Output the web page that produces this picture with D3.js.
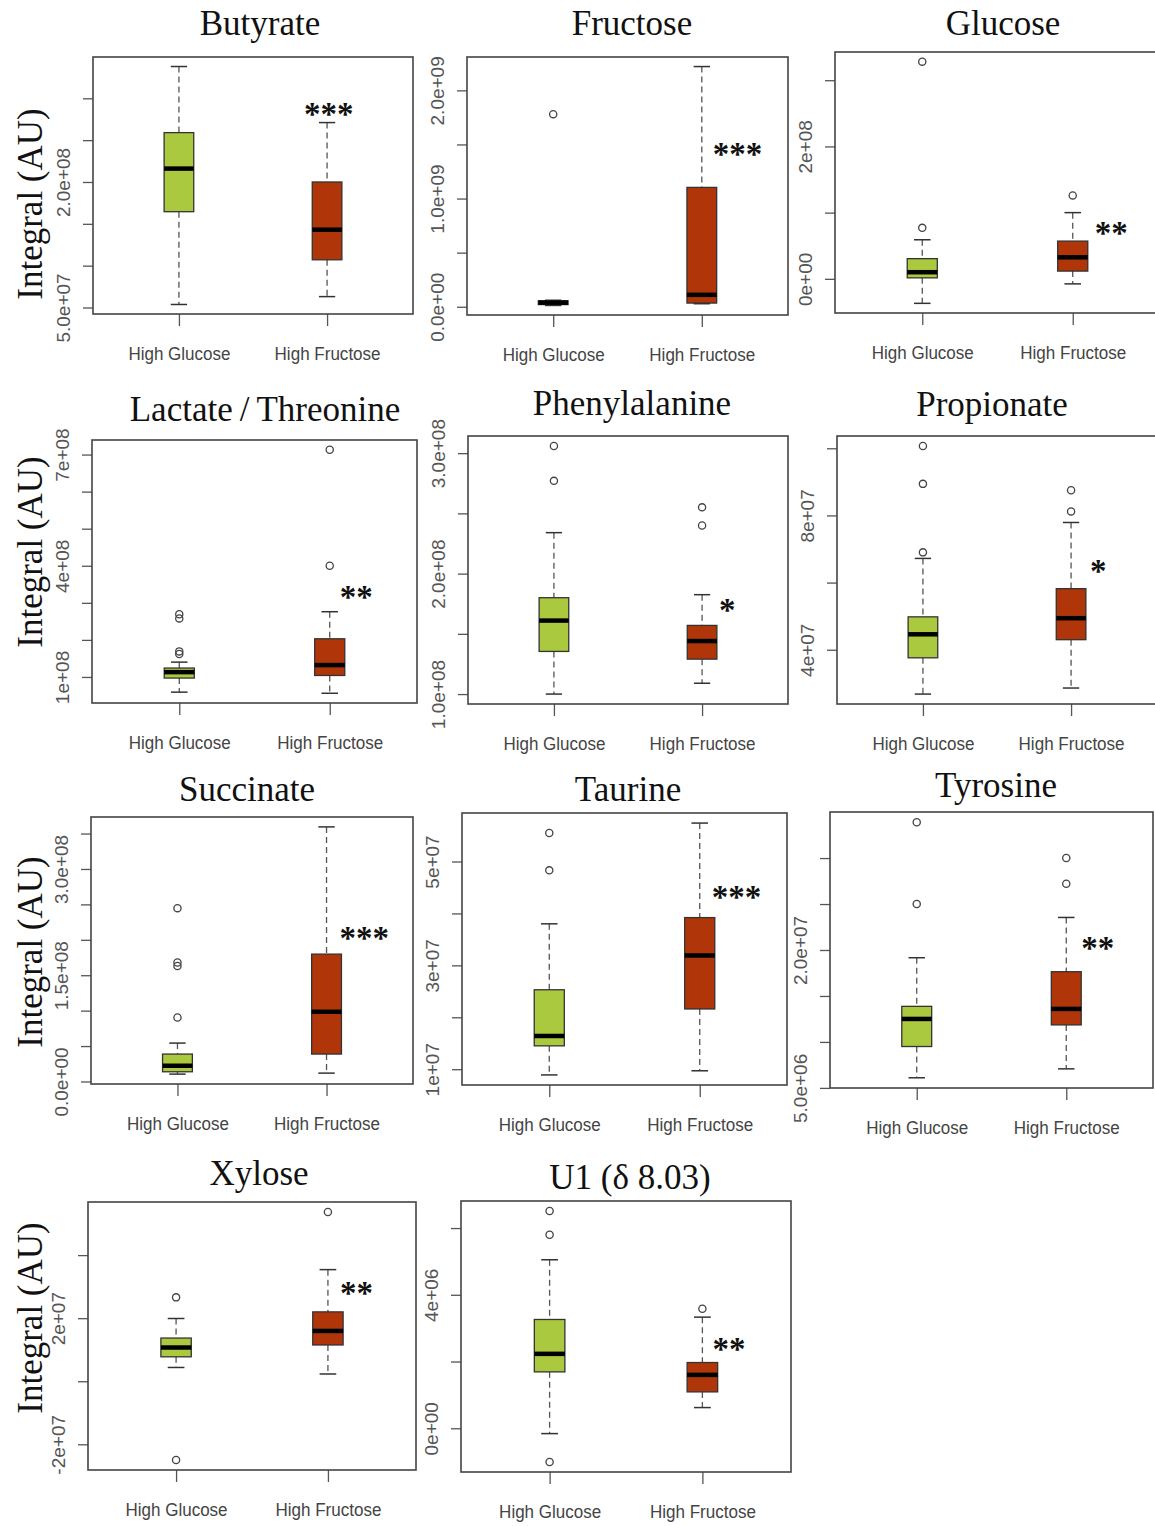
<!DOCTYPE html>
<html lang="en">
<head>
<meta charset="utf-8">
<script src="https://d3js.org/d3.v7.min.js"></script>
<style>
  body { margin: 0; background: #fff; }
  svg { display: block; background: #fff; }
  .title { font-family: "Liberation Serif", "Times New Roman", serif; font-size: 35px; fill: #111; text-anchor: middle; }
  .ylab { font-family: "Liberation Serif", "Times New Roman", serif; font-size: 35px; fill: #111; text-anchor: middle; }
  .tick line { stroke: #555; stroke-width: 1.3px; }
  .yaxis text { font-family: "Liberation Sans", Arial, sans-serif; font-size: 19px; fill: #555; }
  .xaxis text { font-family: "Liberation Sans", Arial, sans-serif; font-size: 18px; fill: #444; }
  .frame { fill: none; stroke: #444; stroke-width: 1.6px; }
  .whisker { stroke: #555; stroke-width: 1.3px; stroke-dasharray: 6,4; }
  .cap { stroke: #333; stroke-width: 1.5px; }
  .box { stroke: #333; stroke-width: 1.3px; }
  .median { stroke: #000; stroke-width: 4.5px; }
  .outlier { fill: none; stroke: #444; stroke-width: 1.3px; }
  .stars { font-family: "Liberation Serif", "Times New Roman", serif; font-weight: bold; font-size: 33px; fill: #111; }
</style>
</head>
<body>
<svg width="1155" height="1526"></svg>
<script>

var groups = ["High Glucose", "High Fructose"];
var colors = ["#aac93f", "#b0360a"];

var metabolites = ["Butyrate", "Fructose", "Glucose", "Lactate\u2009/\u2009Threonine", "Phenylalanine",
    "Propionate", "Succinate", "Taurine", "Tyrosine", "Xylose", "U1 (\u03b4 8.03)"];

// [lower whisker, Q1, median, Q3, upper whisker]
var glucoseStats = [
    [5.36e7, 1.645e8, 2.16e8, 2.59e8, 3.38e8],
    [1.2e7, 2.0e7, 3.8e7, 5.5e7, 6.0e7],
    [-3.7e7, 1.5e6, 1.0e7, 3.05e7, 5.9e7],
    [5.9e7, 9.7e7, 1.13e8, 1.24e8, 1.4e8],
    [1.0e8, 1.354e8, 1.61e8, 1.80e8, 2.34e8],
    [2.68e7, 3.76e7, 4.46e7, 4.98e7, 6.72e7],
    [1.04e7, 1.37e7, 2.22e7, 3.87e7, 5.42e7],
    [8.9e6, 1.45e7, 1.64e7, 2.53e7, 3.8e7],
    [6.1e6, 9.5e6, 1.25e7, 1.387e7, 1.916e7],
    [4.37e6, 7.75e6, 1.07e7, 1.37e7, 1.99e7],
    [-1.6e5, 1.69e6, 2.23e6, 3.26e6, 5.05e6]
];
var fructoseStats = [
    [6.3e7, 1.07e8, 1.43e8, 2.0e8, 2.71e8],
    [2.8e7, 3.4e7, 1.1e8, 1.103e9, 2.22e9],
    [-7.6e6, 1.17e7, 3.25e7, 5.7e7, 1.0e8],
    [5.6e7, 1.04e8, 1.32e8, 2.03e8, 2.76e8],
    [1.09e8, 1.29e8, 1.44e8, 1.57e8, 1.825e8],
    [2.86e7, 4.3e7, 4.94e7, 5.82e7, 7.79e7],
    [1.18e7, 3.87e7, 9.84e7, 1.798e8, 3.594e8],
    [9.7e6, 2.16e7, 3.19e7, 3.92e7, 5.74e7],
    [7.07e6, 1.185e7, 1.359e7, 1.764e7, 2.354e7],
    [2.3e6, 1.15e7, 1.595e7, 2.2e7, 3.54e7],
    [6.2e5, 1.09e6, 1.6e6, 1.97e6, 3.33e6]
];
var glucoseOutliers = [
    [], [1.78e9], [7.7e7, 3.28e8], [1.62e8, 1.69e8, 2.58e8, 2.69e8], [2.77e8, 3.06e8],
    [6.9e7, 8.94e7, 1.007e8], [9.03e7, 1.63e8, 1.68e8, 2.447e8], [4.83e7, 5.55e7],
    [2.5e7, 3.39e7], [-2.5e7, 2.66e7], [-1.01e6, 5.8e6, 6.51e6]
];
var fructoseOutliers = [
    [], [], [1.26e8], [4.0e8, 7.13e8], [2.40e8, 2.55e8], [8.12e7, 8.75e7], [], [],
    [2.72e7, 3.0e7], [5.37e7], [3.58e6]
];

var significance = ["***", "***", "**", "**", "*", "*", "***", "***", "**", "**", "**"];
var starValue = [2.88e8, 1.465e9, 7.7e7, 3.3e8, 1.742e8, 6.5e7, 2.1e8, 4.43e7, 2.08e7, 2.96e7, 2.54e6];

var yTicks = [
    [5e7, 1e8, 1.5e8, 2e8, 2.5e8, 3e8],
    [0, 5e8, 1e9, 1.5e9, 2e9],
    [0, 1e8, 2e8, 3e8],
    [1e8, 2e8, 3e8, 4e8, 5e8, 6e8, 7e8],
    [1e8, 1.5e8, 2e8, 2.5e8, 3e8],
    [4e7, 6e7, 8e7, 1e8],
    [0, 5e7, 1e8, 1.5e8, 2e8, 2.5e8, 3e8, 3.5e8],
    [1e7, 2e7, 3e7, 4e7, 5e7],
    [5e6, 1e7, 1.5e7, 2e7, 2.5e7, 3e7],
    [-2e7, 0, 2e7, 4e7],
    [0, 2e6, 4e6, 6e6]
];
var yTickLabels = [
    ["5.0e+07", "", "", "2.0e+08", "", ""],
    ["0.0e+00", "", "1.0e+09", "", "2.0e+09"],
    ["0e+00", "", "2e+08", ""],
    ["1e+08", "", "", "4e+08", "", "", "7e+08"],
    ["1.0e+08", "", "2.0e+08", "", "3.0e+08"],
    ["4e+07", "", "8e+07", ""],
    ["0.0e+00", "", "", "1.5e+08", "", "", "3.0e+08", ""],
    ["1e+07", "", "3e+07", "", "5e+07"],
    ["5.0e+06", "", "", "2.0e+07", "", ""],
    ["-2e+07", "", "2e+07", ""],
    ["0e+00", "", "4e+06", ""]
];

// layout: plot frame [left, top, right, bottom], title centre, star offset
var frames = [
    [93, 57, 413, 314], [467, 57, 788, 315], [835, 52, 1160, 313],
    [92, 440, 417, 703], [468, 436, 788, 704], [837, 436, 1157, 704],
    [91, 817, 413, 1084], [462, 813, 787, 1085], [830, 812, 1153, 1088],
    [88, 1202, 416, 1470], [461, 1201, 791, 1472]
];
var titlePos = [
    [260, 35], [632, 35], [1003, 35],
    [265, 421], [632, 415], [992, 416],
    [247, 801], [628, 801], [996, 797],
    [259, 1185], [630, 1189]
];
var starDx = [-23, 11, 22, 10, 17, 19, 13, 12, 15, 12, 10];
var ylabY = [204, 552, 952, 1318];

var svg = d3.select("svg");

metabolites.forEach(function (name, i) {
    var f = frames[i];
    var all = [].concat(glucoseStats[i], fructoseStats[i], glucoseOutliers[i], fructoseOutliers[i]);
    var ext = d3.extent(all), pad = (ext[1] - ext[0]) * 0.04;
    var y = d3.scaleLinear().domain([ext[0] - pad, ext[1] + pad]).range([f[3], f[1]]);
    var x = d3.scaleLinear().domain([0.42, 2.58]).range([f[0], f[2]]);
    var g = svg.append("g");

    // y axis with rotated labels
    var ya = g.append("g").attr("class", "yaxis")
        .attr("transform", "translate(" + f[0] + ",0)")
        .call(d3.axisLeft(y).tickValues(yTicks[i]).tickSize(10)
            .tickFormat(function (d, k) { return yTickLabels[i][k]; }));
    ya.select(".domain").remove();
    ya.selectAll("text")
        .attr("transform", "rotate(-90)")
        .attr("x", 0).attr("y", -30).attr("dy", null)
        .style("text-anchor", "middle")
        .style("dominant-baseline", "central");

    // x axis
    var xa = g.append("g").attr("class", "xaxis")
        .attr("transform", "translate(0," + f[3] + ")")
        .call(d3.axisBottom(x).tickValues([1, 2]).tickSize(12)
            .tickFormat(function (d) { return groups[d - 1]; }));
    xa.select(".domain").remove();
    xa.selectAll("text").attr("y", 46).attr("dy", null)
        .attr("textLength", function (d) { return d === 1 ? 102 : 106; })
        .attr("lengthAdjust", "spacingAndGlyphs");

    // boxes
    [glucoseStats[i], fructoseStats[i]].forEach(function (s, j) {
        var c = j + 1;
        g.append("line").attr("class", "whisker")
            .attr("x1", x(c)).attr("x2", x(c)).attr("y1", y(s[4])).attr("y2", y(s[3]));
        g.append("line").attr("class", "whisker")
            .attr("x1", x(c)).attr("x2", x(c)).attr("y1", y(s[1])).attr("y2", y(s[0]));
        [s[0], s[4]].forEach(function (v) {
            g.append("line").attr("class", "cap")
                .attr("x1", x(c - 0.055)).attr("x2", x(c + 0.055)).attr("y1", y(v)).attr("y2", y(v));
        });
        g.append("rect").attr("class", "box")
            .attr("x", x(c - 0.1)).attr("width", x(c + 0.1) - x(c - 0.1))
            .attr("y", y(s[3])).attr("height", Math.max(1, y(s[1]) - y(s[3])))
            .attr("fill", colors[j]);
        g.append("line").attr("class", "median")
            .attr("x1", x(c - 0.1)).attr("x2", x(c + 0.1)).attr("y1", y(s[2])).attr("y2", y(s[2]));
    });

    [glucoseOutliers[i], fructoseOutliers[i]].forEach(function (outs, j) {
        g.selectAll(null).data(outs).enter().append("circle")
            .attr("class", "outlier")
            .attr("cx", x(j + 1)).attr("cy", function (d) { return y(d); }).attr("r", 3.6);
    });

    g.append("rect").attr("class", "frame")
        .attr("x", f[0]).attr("y", f[1]).attr("width", f[2] - f[0]).attr("height", f[3] - f[1]);

    g.append("text").attr("class", "stars")
        .attr("x", x(2) + starDx[i]).attr("y", y(starValue[i])).attr("dy", "0.5em")
        .text(significance[i]);

    g.append("text").attr("class", "title")
        .attr("x", titlePos[i][0]).attr("y", titlePos[i][1]).text(name);

    if (i % 3 === 0) {
        var ly = ylabY[i / 3];
        g.append("text").attr("class", "ylab")
            .attr("transform", "translate(30," + ly + ") rotate(-90)")
            .attr("dy", "0.35em").text("Integral (AU)");
    }
});

</script>
</body>
</html>
